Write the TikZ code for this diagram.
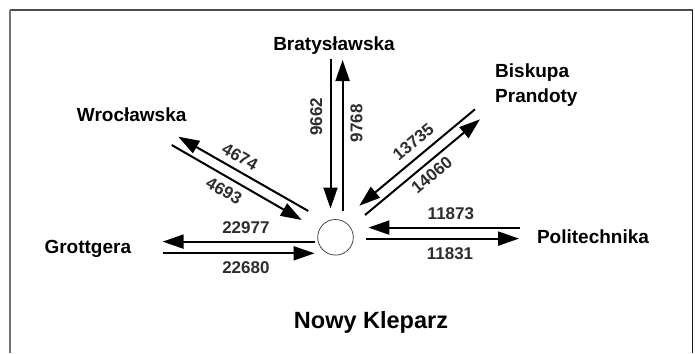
\documentclass[tikz,border=0pt]{standalone}
\usepackage{fontspec}
\setmainfont{Liberation Sans}
\usetikzlibrary{arrows.meta}
\begin{document}
\begin{tikzpicture}[x=1pt,y=-1pt,
  flow/.style={line width=2pt, draw=black, -{Triangle[length=21pt,width=14pt]}},
  streetname/.style={font=\fontsize{19}{25.3}\selectfont\bfseries, text=black, anchor=base, inner sep=0pt},
  flownum/.style={font=\fontsize{17}{20}\selectfont\bfseries, text=black!82, inner sep=0pt},
  hub/.style={circle, draw=black!80, line width=0.7pt, minimum size=35.6pt, inner sep=0pt, fill=white},
]
\useasboundingbox (0,0) rectangle (695,353);
\fill[white] (0,0) rectangle (695,353);
% frame
\coordinate (ftl) at (10,10);
\coordinate (ftr) at (692.5,10);
\coordinate (fbl) at (10,353);
\coordinate (fbr) at (692.5,353);
\draw[line width=1.5pt, black!70] (ftl) -- (ftr);
\draw[line width=1.5pt, black!55] (ftl) -- (fbl);
\draw[line width=1.5pt, black!90] (ftr) -- (fbr);

% hub
\node[hub] (hub) at (335.5,237.3) {};

% street names
\node[streetname] (brat) at (334,50) {Bratysławska};
\node[streetname] (wroc) at (131.7,121) {Wrocławska};
\node[streetname, anchor=base west, align=left] (bisk) at (495,102.3) {Biskupa\\Prandoty};
\node[streetname] (poli) at (593,243.3) {Politechnika};
\node[streetname] (grot) at (87.8,253.3) {Grottgera};
\node[font=\fontsize{23.5}{28}\selectfont\bfseries, anchor=base, inner sep=0pt] (title) at (371,328.3) {Nowy Kleparz};

% Bratyslawska arrows
\coordinate (b1s) at (330.5,59);
\coordinate (b1e) at (330.5,208.5);
\coordinate (b2s) at (342.6,210.5);
\coordinate (b2e) at (342.6,60);
\draw[flow] (b1s) -- (b1e);
\draw[flow] (b2s) -- (b2e);
\node[flownum, rotate=90] (n9662) at (316.3,116.6) {9662};
\node[flownum, rotate=90] (n9768) at (356.4,123.3) {9768};

% Wroclawska arrows
\coordinate (w1s) at (308.3,211);
\coordinate (w1e) at (178.3,136.7);
\coordinate (w2s) at (171.7,145);
\coordinate (w2e) at (301.7,220);
\draw[flow] (w1s) -- (w1e);
\draw[flow] (w2s) -- (w2e);
\node[flownum, rotate=-30] (n4674) at (240,156.7) {4674};
\node[flownum, rotate=-30] (n4693) at (224,190.7) {4693};

% Biskupa Prandoty arrows
\coordinate (p1s) at (475,109.3);
\coordinate (p1e) at (359.3,205.7);
\coordinate (p2s) at (365,215);
\coordinate (p2e) at (480,119.3);
\draw[flow] (p1s) -- (p1e);
\draw[flow] (p2s) -- (p2e);
\node[flownum, rotate=40] (n13735) at (413.3,141.7) {13735};
\node[flownum, rotate=40] (n14060) at (431.7,175) {14060};

% Politechnika arrows
\coordinate (t1s) at (520,227.6);
\coordinate (t1e) at (368.4,227.6);
\coordinate (t2s) at (366.2,238.6);
\coordinate (t2e) at (519,238.6);
\draw[flow] (t1s) -- (t1e);
\draw[flow] (t2s) -- (t2e);
\node[flownum] (n11873) at (450.9,213.3) {11873};
\node[flownum] (n11831) at (450,253.3) {11831};

% Grottgera arrows
\coordinate (g1s) at (314.5,241.6);
\coordinate (g1e) at (162.6,241.6);
\coordinate (g2s) at (162.6,253.3);
\coordinate (g2e) at (314.5,253.3);
\draw[flow] (g1s) -- (g1e);
\draw[flow] (g2s) -- (g2e);
\node[flownum] (n22977) at (245.9,227.6) {22977};
\node[flownum] (n22680) at (245.9,267.6) {22680};
\end{tikzpicture}
\end{document}
